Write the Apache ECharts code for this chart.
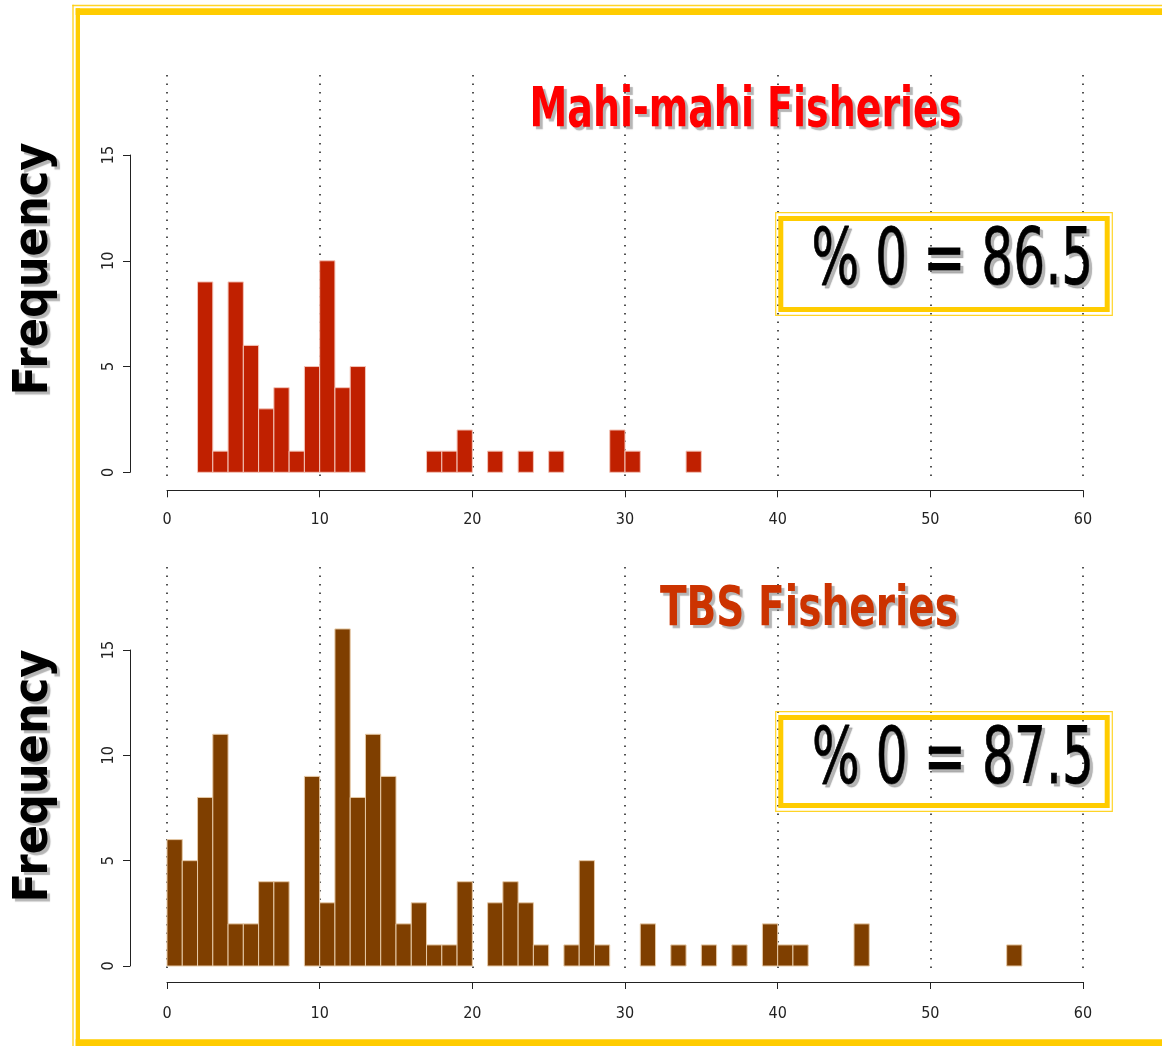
<!DOCTYPE html>
<html>
<head>
<meta charset="utf-8">
<script src="https://cdn.jsdelivr.net/npm/echarts@6/dist/echarts.min.js"></script>
<style>
  html, body { margin: 0; padding: 0; background: #fff; }
  #chart { width: 1162px; height: 1046px; }
</style>
</head>
<body>
<div id="chart"></div>
<script>
// ---- Data (histogram bins: left edge of each 1-unit bin, and its count) ----
const mahiTitle = 'Mahi-mahi Fisheries';
const mahiStarts = [2, 3, 4, 5, 6, 7, 8, 9, 10, 11, 12, 17, 18, 19, 21, 23, 25, 29, 30, 34];
const mahiCounts = [9, 1, 9, 6, 3, 4, 1, 5, 10, 4, 5, 1, 1, 2, 1, 1, 1, 2, 1, 1];
const mahiZeroText = '% 0 = 86.5';

const tbsTitle = 'TBS Fisheries';
const tbsStarts = [0, 1, 2, 3, 4, 5, 6, 7, 9, 10, 11, 12, 13, 14, 15, 16, 17, 18, 19, 21, 22, 23, 24, 26, 27, 28, 31, 33, 35, 37, 39, 40, 41, 45, 55];
const tbsCounts = [6, 5, 8, 11, 2, 2, 4, 4, 9, 3, 16, 8, 11, 9, 2, 3, 1, 1, 4, 3, 4, 3, 1, 1, 5, 1, 2, 1, 1, 1, 2, 1, 1, 2, 1];
const tbsZeroText = '% 0 = 87.5';

const yLabel = 'Frequency';
const xMin = 0, xMax = 60, xStep = 10;
const yMin = 0, yMax = 15, yStep = 5;

// ---- Styles ----
const tickFont = "'Liberation Sans Narrow', 'DejaVu Sans Condensed', 'Liberation Sans', sans-serif";
const axisColor = '#222';
const yellow = '#ffcc00';

function makeRender(fill, stroke) {
  return function (params, api) {
    const x = api.value(0), h = api.value(1);
    const p0 = api.coord([x, 0]);
    const p1 = api.coord([x + 1, h]);
    return {
      type: 'rect',
      shape: { x: p0[0], y: p1[1], width: p1[0] - p0[0], height: p0[1] - p1[1] },
      style: { fill: fill, stroke: stroke, lineWidth: 1 }
    };
  };
}

function axesPair(gridMain, gridDots, xOffset, xMargin) {
  return {
    x: [
      {
        type: 'value', gridIndex: gridMain, min: xMin, max: xMax, interval: xStep, offset: xOffset,
        axisLine: { show: true, onZero: false, lineStyle: { color: axisColor, width: 1 } },
        axisTick: { show: true, length: 7, lineStyle: { color: axisColor, width: 1 } },
        axisLabel: { show: true, margin: xMargin, fontSize: 16, color: axisColor, fontFamily: tickFont },
        splitLine: { show: false }
      },
      {
        type: 'value', gridIndex: gridDots, min: xMin, max: xMax, interval: xStep,
        axisLine: { show: false }, axisTick: { show: false }, axisLabel: { show: false },
        splitLine: { show: true, lineStyle: { color: '#1a1a1a', width: 1.5, type: [1.5, 7] } }
      }
    ],
    y: [
      {
        type: 'value', gridIndex: gridMain, min: yMin, max: yMax, interval: yStep, offset: 37,
        axisLine: { show: true, onZero: false, lineStyle: { color: axisColor, width: 1 } },
        axisTick: { show: true, length: 7, lineStyle: { color: axisColor, width: 1 } },
        axisLabel: { show: true, rotate: 90, margin: 13, fontSize: 16, color: axisColor, fontFamily: tickFont },
        splitLine: { show: false }
      },
      {
        type: 'value', gridIndex: gridDots, min: 0, max: 1, show: false
      }
    ]
  };
}

const topAxes = axesPair(0, 1, 18, 22);
const botAxes = axesPair(2, 3, 16, 24);

function shadowText(text, cx, cy, size, weight, color, sx, rot, strokeW) {
  const style = {
    text: text, x: 0, y: 0, align: 'center', verticalAlign: 'middle',
    fontSize: size, fontWeight: weight, fontFamily: "'DejaVu Sans', sans-serif",
    fill: color,
    textShadowColor: 'rgba(120,120,120,0.55)', textShadowBlur: 1,
    textShadowOffsetX: 3, textShadowOffsetY: 3
  };
  if (strokeW) { style.stroke = color; style.lineWidth = strokeW; }
  return { type: 'text', x: cx, y: cy, scaleX: sx, rotation: rot || 0, silent: true, z: 10, style: style };
}

function box(x0, y0, x1, y1) {
  return [
    { type: 'rect', silent: true, z: 5, shape: { x: x0, y: y0, width: x1 - x0, height: y1 - y0 },
      style: { fill: 'none', stroke: yellow, lineWidth: 1.2, opacity: 0.85 } },
    { type: 'rect', silent: true, z: 5, shape: { x: x0 + 5.1, y: y0 + 5.8, width: x1 - x0 - 10.2, height: y1 - y0 - 11.6 },
      style: { fill: 'none', stroke: yellow, lineWidth: 5 } }
  ];
}

const graphics = [
  // outer decorative frame (thin outer line + thick inner band)
  { type: 'rect', silent: true, z: 1, shape: { x: 72.3, y: 4.7, width: 1.4, height: 1100 }, style: { fill: yellow, opacity: 0.85 } },
  { type: 'rect', silent: true, z: 1, shape: { x: 72.3, y: 4.7, width: 1100, height: 1.6 }, style: { fill: yellow, opacity: 0.85 } },
  { type: 'rect', silent: true, z: 1, shape: { x: 75.7, y: 8.3, width: 4.3, height: 1100 }, style: { fill: yellow } },
  { type: 'rect', silent: true, z: 1, shape: { x: 75.7, y: 8.3, width: 1100, height: 6.7 }, style: { fill: yellow } },
  { type: 'rect', silent: true, z: 1, shape: { x: 75.7, y: 1039.3, width: 1100, height: 7 }, style: { fill: yellow } },
  // titles
  shadowText(mahiTitle, 745.5, 112, 55, 'bold', '#ff0000', 0.69),
  shadowText(tbsTitle, 809, 611, 55, 'bold', '#cc3300', 0.71),
  // y axis names
  shadowText(yLabel, 35, 269, 48, 'bold', '#000', 0.9, Math.PI / 2),
  shadowText(yLabel, 35, 776, 48, 'bold', '#000', 0.9, Math.PI / 2),
  // % zero boxes
  ...box(775.7, 212.7, 1112.3, 315.3),
  shadowText(mahiZeroText, 952.4, 264, 78, 'normal', '#000', 0.645, 0, 0.9),
  ...box(775.7, 711.7, 1112.3, 811.3),
  shadowText(tbsZeroText, 953, 763, 78, 'normal', '#000', 0.645, 0, 0.9)
];

const option = {
  animation: false,
  backgroundColor: '#ffffff',
  grid: [
    { left: 167, top: 155, width: 916, height: 317.3 },
    { left: 167, top: 75, width: 916, height: 406 },
    { left: 167, top: 650, width: 916, height: 316 },
    { left: 167, top: 567, width: 916, height: 407 }
  ],
  xAxis: [topAxes.x[0], topAxes.x[1], botAxes.x[0], botAxes.x[1]],
  yAxis: [topAxes.y[0], topAxes.y[1], botAxes.y[0], botAxes.y[1]],
  series: [
    {
      type: 'custom', name: mahiTitle, xAxisIndex: 0, yAxisIndex: 0, clip: false, z: 3,
      renderItem: makeRender('#c02000', '#f3c4b8'),
      encode: { x: 0, y: 1 },
      data: mahiStarts.map((s, i) => [s, mahiCounts[i]])
    },
    {
      type: 'custom', name: tbsTitle, xAxisIndex: 2, yAxisIndex: 2, clip: false, z: 3,
      renderItem: makeRender('#7f3f00', '#e6c9a6'),
      encode: { x: 0, y: 1 },
      data: tbsStarts.map((s, i) => [s, tbsCounts[i]])
    }
  ],
  graphic: { elements: graphics }
};

const chart = echarts.init(document.getElementById('chart'), null, { renderer: 'canvas' });
chart.setOption(option);
</script>
</body>
</html>
